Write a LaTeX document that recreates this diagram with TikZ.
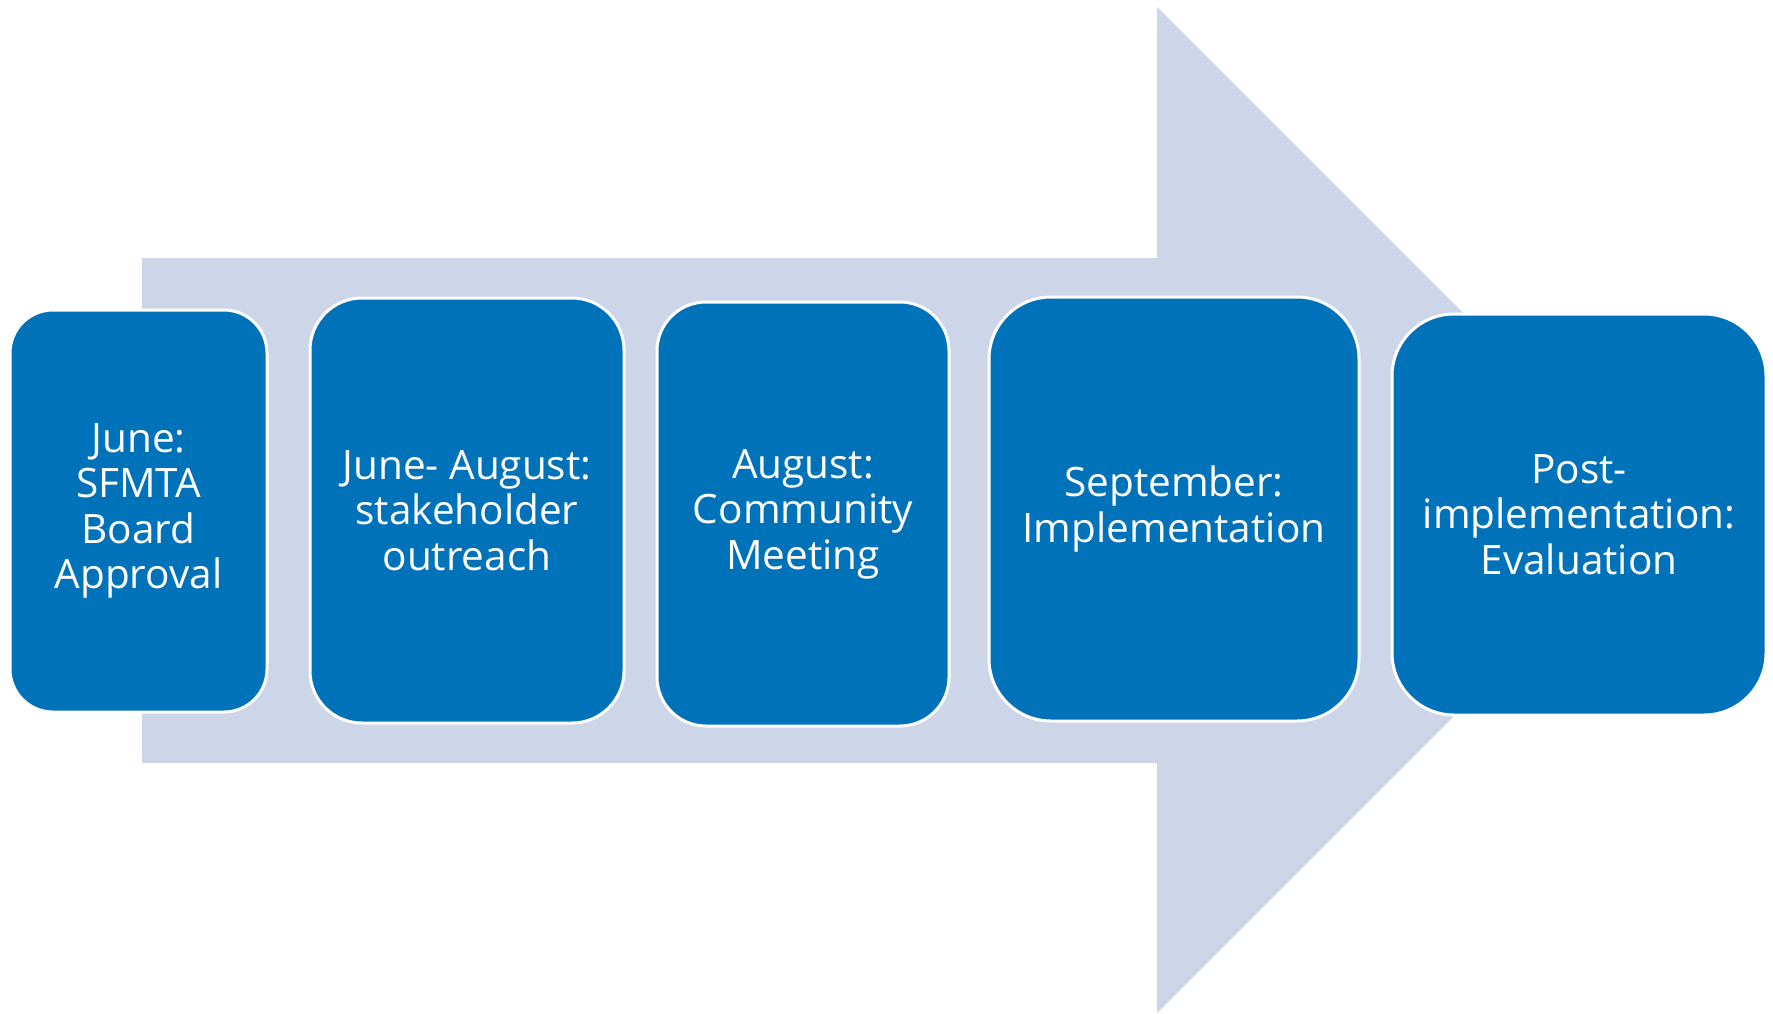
\documentclass[tikz,border=0pt]{standalone}
\usepackage{fontspec}
\setmainfont{Open Sans}
\definecolor{boxblue}{RGB}{0,114,186}
\definecolor{arrowgray}{RGB}{205,213,232}
\begin{document}
\begin{tikzpicture}[x=1pt,y=-1pt,
  stage/.style={draw=white, line width=3pt, fill=boxblue, text=white,
    align=center, inner sep=0pt, font=\fontsize{40.5}{45.6}\selectfont},
]
\useasboundingbox (0,0) rectangle (1773,1014);
% big background arrow
\fill[arrowgray] (142,258) -- (1157,258) -- (1157,7) -- (1660,510)
  -- (1157,1013) -- (1157,763) -- (142,763) -- cycle;
% stages
\node[stage, minimum width=257pt, minimum height=402pt, rounded corners=43pt]
  (s1) at (138.5,511) {June:\\SFMTA\\Board\\Approval};
\node[stage, minimum width=314pt, minimum height=425pt, rounded corners=52pt]
  (s2) at (467,510.5) {June- August:\\stakeholder\\outreach};
\node[stage, minimum width=292pt, minimum height=424pt, rounded corners=49pt]
  (s3) at (803,514) {August:\\Community\\Meeting};
\node[stage, minimum width=370pt, minimum height=424pt, rounded corners=62pt]
  (s4) at (1174,509) {September:\\Implementation};
\node[stage, minimum width=374pt, minimum height=401pt, rounded corners=62pt]
  (s5) at (1579,514.5) {Post-\\implementation:\\Evaluation};
\end{tikzpicture}
\end{document}
